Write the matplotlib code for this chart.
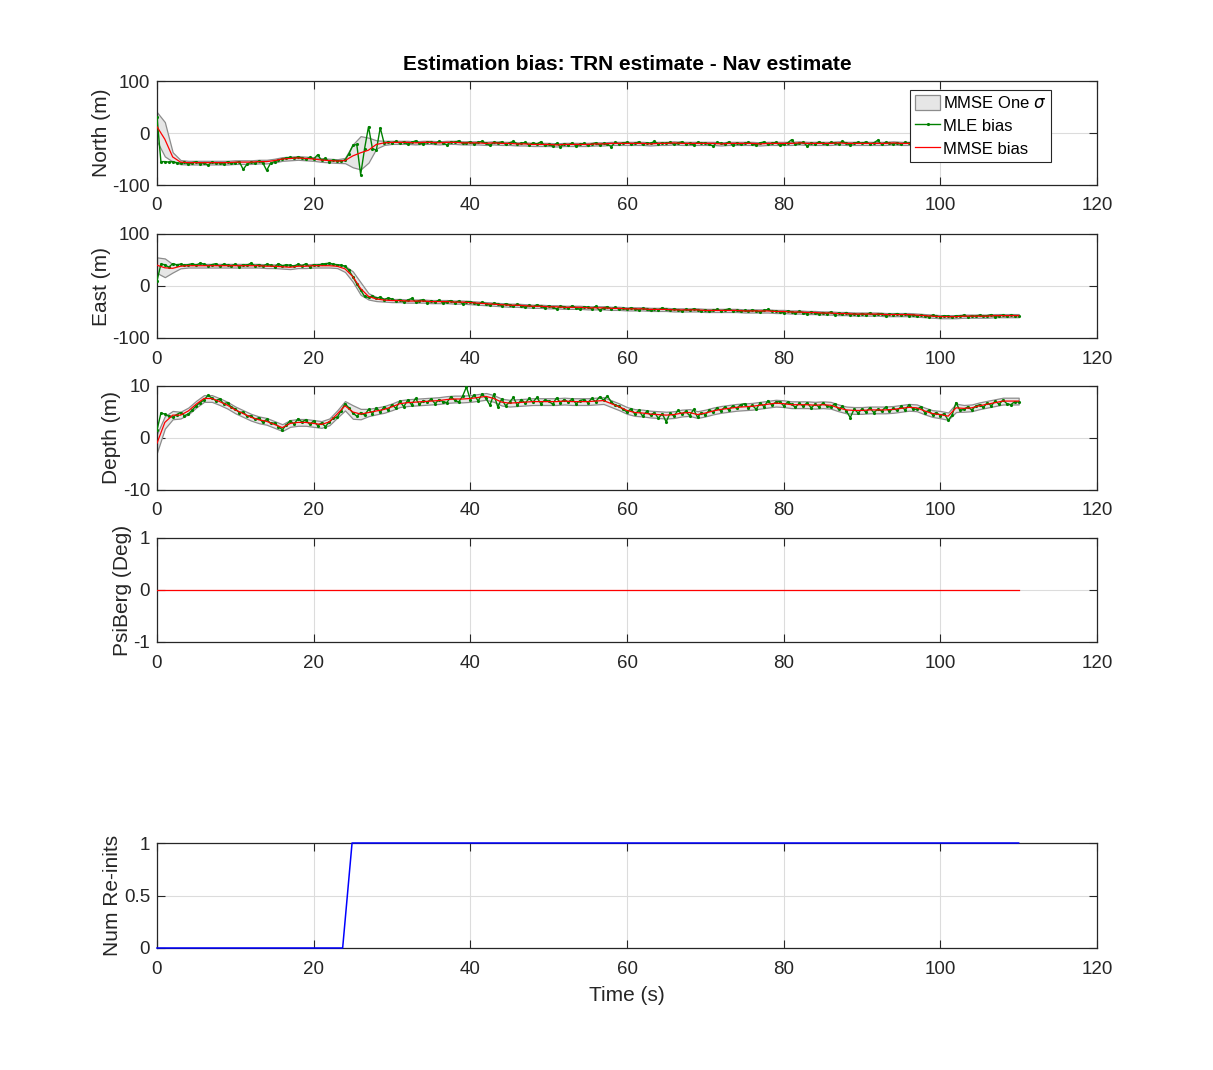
import numpy as np
import matplotlib
matplotlib.use("Agg")
import matplotlib.pyplot as plt
from matplotlib.patches import Patch
from matplotlib.lines import Line2D

plt.rcParams['font.family'] = ['Liberation Sans', 'DejaVu Sans']
plt.rcParams['mathtext.fontset'] = 'dejavusans'
plt.rcParams['axes.unicode_minus'] = False

# ---------------- data ----------------
mle_dt = 0.5   # MLE samples every 0.5 s
mmse_dt = 1.0  # MMSE / sigma samples every 1 s

north_mle = [
    30, -55, -55, -56, -55, -57, -58, -56, -60, -57,
    -55, -59, -57, -62, -56, -58, -57, -60, -55, -58,
    -57, -55, -70, -60, -56, -58, -54, -57, -72, -58,
    -55, -52, -50, -48, -47, -49, -46, -48, -50, -47,
    -50, -42, -52, -49, -55, -52, -53, -54, -52, -40,
    -24, -22, -80, -30, 12, -30, -33, 10, -20, -17,
    -19, -16, -20, -17, -22, -18, -15, -19, -21, -17,
    -18, -20, -16, -19, -23, -17, -18, -15, -20, -19,
    -17, -21, -18, -16, -20, -24, -18, -19, -17, -22,
    -19, -16, -21, -20, -18, -23, -19, -21, -17, -24,
    -22, -25, -20, -26, -21, -23, -19, -25, -22, -20,
    -24, -21, -19, -23, -20, -22, -26, -18, -21, -19,
    -18, -21, -20, -17, -22, -19, -20, -16, -21, -19,
    -20, -18, -22, -19, -17, -21, -20, -23, -18, -20,
    -19, -22, -25, -18, -20, -21, -17, -24, -19, -22,
    -20, -18, -21, -23, -19, -17, -22, -20, -18, -24,
    -21, -19, -13, -22, -20, -18, -25, -19, -21, -17,
    -20, -22, -18, -19, -21, -16, -20, -23, -19, -18,
    -20, -17, -21, -19, -14, -22, -18, -20, -21, -19,
    -22, -18, -20, -24, -19, -21, -17, -20, -23, -18,
    -20, -19, -22, -18, -21, -20, -19, -23, -18, -21,
    -20, -22, -19, -21, -18, -20, -22, -19, -21, -20,
    -20]
north_mmse = [
    12, -12, -46, -56, -57, -57, -57, -57, -57, -57,
    -56, -56, -56, -55, -55, -53, -50, -49, -48, -49,
    -50, -52, -53, -54, -53, -44, -38, -33, -22, -19,
    -18, -18, -18, -19, -18, -18, -19, -18, -18, -19,
    -19, -19, -20, -19, -20, -20, -21, -21, -22, -22,
    -22, -23, -22, -22, -22, -22, -21, -21, -20, -20,
    -20, -20, -20, -21, -20, -20, -19, -20, -20, -20,
    -20, -20, -21, -20, -20, -20, -20, -21, -20, -20,
    -20, -20, -19, -20, -20, -20, -20, -19, -20, -20,
    -20, -20, -20, -20, -19, -20, -20, -20, -20, -20,
    -20, -20, -20, -20, -20, -20, -20, -20, -20, -20,
    -20]
north_sig = [
    28, 33, 9, 4, 3.5, 3.5, 3.5, 3.5, 3.5, 3.5,
    3.5, 3.5, 3.5, 3.5, 3.5, 3.5, 3.5, 3.5, 3.5, 3.5,
    3.5, 3.5, 3.5, 3.5, 5, 22, 32, 24, 8, 4,
    3, 3, 3, 3, 3, 3, 3, 3, 3, 3,
    3, 3, 3, 3, 3, 3, 3, 3, 3, 3,
    3, 3, 3, 3, 3, 3, 3, 3, 3, 3,
    3, 3, 3, 3, 3, 3, 3, 3, 3, 3,
    3, 3, 3, 3, 3, 3, 3, 3, 3, 3,
    3, 3, 3, 3, 3, 3, 3, 3, 3, 3,
    3, 3, 3, 3, 3, 3, 3, 3, 3, 3,
    3, 3, 3, 3, 3, 3, 3, 3, 3, 3,
    3]

east_mle = [
    10, 42, 41, 36, 43, 41, 42, 40, 41, 43,
    40, 44, 42, 39, 41, 43, 38, 42, 40, 39,
    42, 37, 41, 40, 44, 39, 41, 38, 42, 40,
    37, 43, 39, 41, 40, 38, 42, 39, 43, 37,
    41, 40, 42, 43, 44, 42, 41, 40, 38, 30,
    18, 4, -8, -20, -22, -19, -24, -21, -26, -23,
    -25, -29, -26, -31, -27, -24, -30, -28, -26, -32,
    -29, -31, -27, -33, -30, -28, -32, -29, -34, -30,
    -30, -33, -35, -31, -34, -37, -33, -35, -38, -34,
    -36, -39, -35, -38, -41, -37, -40, -36, -39, -42,
    -38, -41, -44, -39, -40, -43, -38, -42, -45, -40,
    -41, -44, -39, -47, -42, -40, -44, -41, -45, -43,
    -45, -42, -44, -46, -43, -45, -47, -44, -46, -42,
    -45, -47, -44, -46, -48, -45, -47, -44, -46, -48,
    -46, -49, -47, -45, -48, -46, -44, -48, -47, -49,
    -47, -49, -46, -48, -50, -47, -45, -49, -48, -50,
    -51, -48, -50, -52, -49, -51, -53, -50, -52, -54,
    -51, -53, -50, -55, -52, -54, -51, -56, -53, -55,
    -53, -55, -52, -56, -54, -53, -57, -54, -55, -53,
    -56, -54, -57, -55, -58, -56, -57, -59, -56, -58,
    -59, -57, -58, -60, -57, -58, -56, -59, -57, -58,
    -56, -58, -57, -55, -59, -57, -56, -58, -56, -57,
    -57]
east_mmse = [
    40, 35, 34, 38, 39, 39, 39, 39, 39, 39,
    39, 39, 39, 39, 38, 38, 37, 36, 38, 38,
    39, 39, 39, 38, 33, 18, -5, -20, -25, -27,
    -28, -28, -29, -29, -29, -30, -30, -30, -31, -31,
    -32, -33, -34, -35, -36, -37, -37, -38, -39, -39,
    -40, -40, -41, -41, -41, -42, -42, -42, -43, -43,
    -44, -44, -44, -45, -45, -45, -46, -46, -46, -46,
    -47, -47, -47, -47, -47, -48, -48, -48, -48, -49,
    -49, -50, -50, -51, -51, -52, -52, -53, -53, -54,
    -54, -54, -54, -55, -55, -55, -55, -56, -57, -58,
    -59, -59, -59, -58, -58, -58, -58, -57, -57, -57,
    -57]
east_sig = [
    15, 18, 8, 4, 3.5, 3.5, 3.5, 3.5, 3.5, 3.5,
    3.5, 3.5, 3.5, 3.5, 3.5, 3.5, 3.5, 3.5, 3.5, 3.5,
    3.5, 3.5, 3.5, 3.5, 6, 10, 12, 6, 4, 3,
    3, 3, 3, 3, 3, 3, 3, 3, 3, 3,
    3, 3, 3, 3, 3, 3, 3, 3, 3, 3,
    3, 3, 3, 3, 3, 3, 3, 3, 3, 3,
    3, 3, 3, 3, 3, 3, 3, 3, 3, 3,
    3, 3, 3, 3, 3, 3, 3, 3, 3, 3,
    3, 3, 3, 3, 3, 3, 3, 3, 3, 3,
    3, 3, 3, 3, 3, 3, 3, 3, 3, 3,
    3, 3, 3, 3, 3, 3, 3, 3, 3, 3,
    3]

depth_mle = [
    1.5, 4.8, 4.6, 4.2, 4.0, 4.5, 4.9, 4.3, 4.6, 5.4,
    6.2, 6.8, 7.3, 8.2, 7.7, 7.2, 7.5, 6.6, 6.8, 5.9,
    5.6, 4.9, 5.0, 4.2, 4.3, 3.6, 3.9, 3.0, 3.6, 2.8,
    2.9, 2.2, 1.6, 2.5, 3.3, 2.7, 3.7, 3.1, 3.5, 2.6,
    3.3, 2.4, 2.9, 2.2, 3.1, 3.8, 4.0, 5.2, 6.6, 5.8,
    4.8, 4.2, 4.9, 4.4, 5.5, 4.7, 5.8, 5.0, 6.0, 5.4,
    6.4, 5.7, 7.1, 6.0, 7.3, 6.4, 7.6, 6.5, 7.2, 6.9,
    7.5, 6.6, 7.4, 7.0, 6.8, 7.9, 7.3, 6.9, 8.0, 9.8,
    7.4, 8.3, 7.1, 8.5, 7.6, 6.3, 8.4, 6.0, 7.5, 6.2,
    6.9, 7.8, 6.3, 7.4, 6.7, 7.6, 6.9, 7.8, 6.6, 7.3,
    7.1, 6.5, 7.7, 6.8, 7.4, 6.9, 7.5, 6.6, 7.2, 7.4,
    6.8, 7.6, 7.0, 7.9, 7.3, 8.1, 6.9, 6.3, 6.1, 5.5,
    5.0, 5.6, 4.6, 5.3, 4.2, 5.1, 4.4, 4.9, 3.8, 4.7,
    3.1, 4.8, 4.2, 5.3, 4.6, 5.1, 4.3, 5.5, 4.0, 4.9,
    4.5, 5.3, 5.0, 5.8, 5.2, 6.0, 5.4, 6.2, 5.7, 6.4,
    6.6, 5.8, 6.3, 5.5, 6.8, 6.0, 7.2, 6.3, 6.9, 7.0,
    6.2, 6.9, 6.5, 5.9, 6.7, 6.1, 6.8, 5.8, 6.5, 6.0,
    6.7, 6.2, 5.9, 6.6, 5.5, 6.1, 5.2, 3.9, 5.6, 4.8,
    5.6, 5.0, 5.8, 4.9, 5.5, 5.2, 5.9, 5.1, 5.7, 5.3,
    6.1, 5.4, 6.4, 5.6, 5.5, 6.0, 4.9, 5.3, 4.5, 4.9,
    4.3, 4.7, 3.4, 4.4, 6.8, 5.3, 5.5, 6.0, 5.4, 6.1,
    6.4, 5.9, 6.8, 6.2, 7.1, 6.5, 7.3, 6.6, 6.4, 7.0,
    6.9]
depth_mmse = [
    -1.0, 3.0, 4.4, 4.4, 5.2, 6.5, 7.6, 7.6, 7.0, 6.3,
    5.4, 4.7, 4.0, 3.5, 3.2, 2.6, 2.0, 2.8, 3.0, 3.0,
    2.8, 2.6, 3.1, 4.6, 6.2, 5.0, 4.6, 4.9, 5.2, 5.5,
    6.0, 6.6, 6.8, 6.9, 7.0, 7.1, 7.2, 7.4, 7.5, 7.5,
    7.6, 7.8, 8.0, 7.6, 6.9, 6.7, 6.8, 6.9, 7.0, 7.0,
    7.0, 7.0, 7.1, 7.0, 7.0, 7.0, 7.1, 7.2, 6.6, 6.0,
    5.3, 4.9, 4.8, 4.6, 4.5, 4.4, 4.5, 4.8, 4.9, 4.5,
    4.8, 5.2, 5.5, 5.7, 5.9, 6.0, 6.1, 6.3, 6.5, 6.7,
    6.6, 6.4, 6.4, 6.4, 6.3, 6.4, 6.3, 5.8, 5.4, 5.3,
    5.3, 5.4, 5.4, 5.4, 5.5, 5.7, 5.9, 5.8, 5.2, 4.7,
    4.5, 4.2, 5.8, 5.7, 5.8, 6.2, 6.5, 6.8, 7.1, 7.1,
    7.1]
depth_sig = [
    1.8, 1.2, 0.8, 0.65, 0.65, 0.65, 0.65, 0.65, 0.65, 0.65,
    0.65, 0.65, 0.65, 0.65, 0.65, 0.65, 0.65, 0.65, 0.65, 0.65,
    0.65, 0.65, 0.65, 0.7, 0.9, 1.3, 1.0, 0.7, 0.65, 0.65,
    0.65, 0.65, 0.65, 0.65, 0.65, 0.65, 0.65, 0.65, 0.65, 0.65,
    0.65, 0.65, 0.65, 0.65, 0.65, 0.65, 0.65, 0.65, 0.65, 0.65,
    0.65, 0.65, 0.65, 0.65, 0.65, 0.65, 0.65, 0.65, 0.65, 0.65,
    0.65, 0.65, 0.65, 0.65, 0.65, 0.65, 0.65, 0.65, 0.65, 0.65,
    0.65, 0.65, 0.65, 0.65, 0.65, 0.65, 0.65, 0.65, 0.65, 0.65,
    0.65, 0.65, 0.65, 0.65, 0.65, 0.65, 0.65, 0.65, 0.65, 0.65,
    0.65, 0.65, 0.65, 0.65, 0.65, 0.65, 0.65, 0.65, 0.65, 0.65,
    0.7, 0.7, 0.8, 0.65, 0.65, 0.65, 0.65, 0.65, 0.65, 0.65,
    0.65]

psi_t = [0, 110]
psi_mmse = [0, 0]

reinit_t = [0, 23.7, 24.9, 110]
reinit_n = [0, 0, 1, 1]

# ---------------- figure ----------------
W, H = 1213, 1070
fig = plt.figure(figsize=(W / 100, H / 100), dpi=100)

left = 157 / W
width = (1097 - 157) / W

def ax_at(top_px, bot_px):
    return fig.add_axes([left, 1 - bot_px / H, width, (bot_px - top_px) / H])

TXT = '#262626'
TICK_FS = 13.5
LAB_FS = 15

def style(ax, ylim, yticks, ylabel):
    ax.set_xlim(0, 120)
    ax.set_xticks([0, 20, 40, 60, 80, 100, 120])
    ax.set_ylim(*ylim)
    ax.set_yticks(yticks)
    ax.grid(True, color='#dcdcdc', linewidth=0.8)
    ax.set_axisbelow(True)
    ax.tick_params(direction='in', length=6, width=0.8, colors=TXT,
                   labelsize=TICK_FS, top=True, right=True)
    ax.tick_params(axis='x', pad=9)
    ax.tick_params(axis='y', pad=5)
    for s in ax.spines.values():
        s.set_color(TXT)
        s.set_linewidth(0.9)
    ax.set_ylabel(ylabel, fontsize=LAB_FS, color=TXT, labelpad=1)

def bias_panel(ax, mle, mmse, sig):
    t_mle = np.arange(len(mle)) * mle_dt
    t_mm = np.arange(len(mmse)) * mmse_dt
    mm = np.asarray(mmse, float)
    sg = np.asarray(sig, float)
    ax.fill_between(t_mm, mm - sg, mm + sg, facecolor='#e6e6e6',
                    edgecolor='#8c8c8c', linewidth=0.9, zorder=2)
    ax.plot(t_mle, mle, color='#008000', linewidth=1.0, marker='.',
            markersize=2.5, zorder=3)
    ax.plot(t_mm, mm, color='#ff0000', linewidth=0.9, zorder=4)

ax1 = ax_at(81, 185)
bias_panel(ax1, north_mle, north_mmse, north_sig)
style(ax1, (-100, 100), [-100, 0, 100], 'North (m)')
ax1.set_title('Estimation bias: TRN estimate - Nav estimate',
              fontsize=15, fontweight='bold', color='black', pad=8)

handles = [Patch(facecolor='#e6e6e6', edgecolor='#8c8c8c', linewidth=0.9),
           Line2D([], [], color='#008000', linewidth=1.0, marker='.', markersize=2.5),
           Line2D([], [], color='#ff0000', linewidth=0.9)]
leg = ax1.legend(handles, ['MMSE One $\\sigma$', 'MLE bias', 'MMSE bias'],
                 loc='upper right', bbox_to_anchor=((1051 - 157) / 940, (185 - 90) / 104),
                 borderaxespad=0, fontsize=12, frameon=True, fancybox=False,
                 framealpha=1, edgecolor=TXT, handlelength=1.5, handleheight=1.0,
                 handletextpad=0.15, labelspacing=0.4, borderpad=0.3)
leg.get_frame().set_linewidth(0.8)
leg.set_zorder(10)

ax2 = ax_at(234, 338)
bias_panel(ax2, east_mle, east_mmse, east_sig)
style(ax2, (-100, 100), [-100, 0, 100], 'East (m)')

ax3 = ax_at(386, 490)
bias_panel(ax3, depth_mle, depth_mmse, depth_sig)
style(ax3, (-10, 10), [-10, 0, 10], 'Depth (m)')

ax4 = ax_at(538, 642)
ax4.plot(psi_t, psi_mmse, color='#ff0000', linewidth=0.9, zorder=4)
style(ax4, (-1, 1), [-1, 0, 1], 'PsiBerg (Deg)')

ax5 = ax_at(843, 948)
ax5.plot(reinit_t, reinit_n, color='#0000ff', linewidth=1.1, zorder=5, clip_on=False)
style(ax5, (0, 1), [0, 0.5, 1], 'Num Re-inits')
ax5.set_yticklabels(['0', '0.5', '1'])
ax5.set_xlabel('Time (s)', fontsize=LAB_FS, color=TXT, labelpad=6)

fig.savefig('out.png', dpi=100, facecolor='white')
